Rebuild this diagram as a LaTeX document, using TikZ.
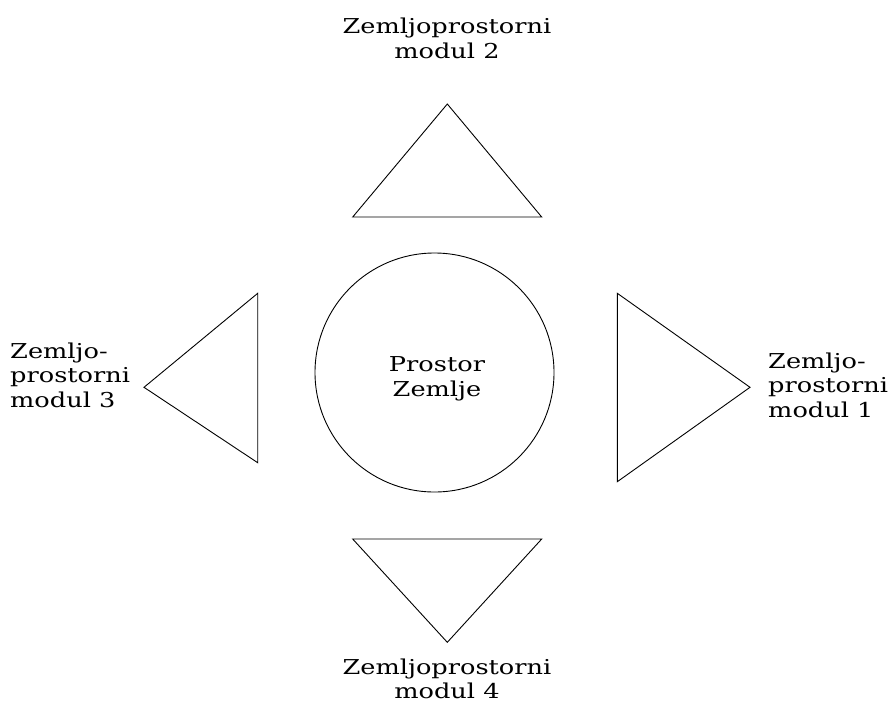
\documentclass[tikz,border=0pt]{standalone}
\usepackage{fontspec}
\setmainfont[FakeStretch=1.25]{DejaVu Serif}
\begin{document}
\begin{tikzpicture}[x=1pt,y=-1pt,
  shapeline/.style={draw=black, line width=0.9pt, line join=miter},
  lbl/.style={inner sep=0pt, font=\fontsize{20.5}{24.5}\selectfont}]
\useasboundingbox (0,0) rectangle (893,707);

% central sphere
\node[shapeline, circle, minimum size=239pt, inner sep=0pt] (earth) at (434.5,372.5) {};
\node[lbl, align=center, anchor=base] (earthtxt) at (437,396) {Prostor\\Zemlje};

% four modules
\draw[shapeline] (447.3,104) coordinate (t2a) -- (541.7,217) coordinate (t2b) -- (352.7,217) coordinate (t2c) -- cycle;
\draw[shapeline] (447.3,642.3) coordinate (t4a) -- (541.7,539) coordinate (t4b) -- (352.7,539) coordinate (t4c) -- cycle;
\draw[shapeline] (144,387.3) coordinate (t3a) -- (257.7,293.3) coordinate (t3b) -- (257.7,462.7) coordinate (t3c) -- cycle;
\draw[shapeline] (750,387.3) coordinate (t1a) -- (617.3,293.3) coordinate (t1b) -- (617.3,481.7) coordinate (t1c) -- cycle;

% module labels
\node[lbl, align=center, anchor=base] (m2) at (447,58) {Zemljoprostorni\\modul 2};
\node[lbl, align=center, anchor=base] (m4) at (447,698.5) {Zemljoprostorni\\modul 4};
\node[lbl, align=left, anchor=base west] (m3) at (10,407) {Zemljo-\\prostorni\\modul 3};
\node[lbl, align=left, anchor=base west] (m1) at (768,417) {Zemljo-\\prostorni\\modul 1};
\end{tikzpicture}
\end{document}
